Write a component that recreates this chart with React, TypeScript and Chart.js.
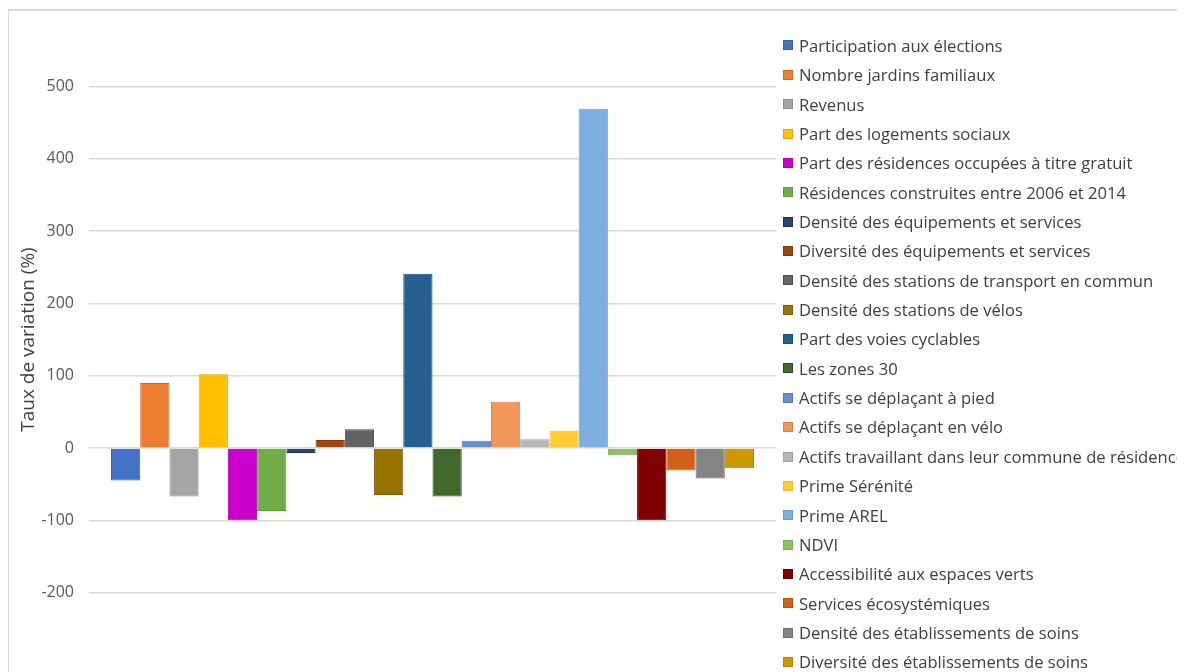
import React, { useEffect, useRef } from "react";
import { Chart, registerables } from "chart.js";

Chart.register(...registerables);

const categories = [""];

const seriesNames = [
  "Participation aux élections",
  "Nombre jardins familiaux",
  "Revenus",
  "Part des logements sociaux",
  "Part des résidences occupées à titre gratuit",
  "Résidences construites entre 2006 et 2014",
  "Densité des équipements et services",
  "Diversité des équipements et services",
  "Densité des stations de transport en commun",
  "Densité des stations de vélos",
  "Part des voies cyclables",
  "Les zones 30",
  "Actifs se déplaçant à pied",
  "Actifs se déplaçant en vélo",
  "Actifs travaillant dans leur commune de résidence",
  "Prime Sérénité",
  "Prime AREL",
  "NDVI",
  "Accessibilité aux espaces verts",
  "Services écosystémiques",
  "Densité des établissements de soins",
  "Diversité des établissements de soins",
];

const seriesValues = [
  -45, 90, -67, 102, -100, -87, -7, 11, 26, -65, 241, -67, 10, 64, 12, 24, 469,
  -10, -100, -31, -42, -28,
];

const seriesColors = [
  "#4472C4", "#ED7D31", "#A5A5A5", "#FFC000", "#CC00CC", "#70AD47",
  "#264478", "#9E480E", "#636363", "#997300", "#255E91", "#43682B",
  "#698ED0", "#F1975A", "#B7B7B7", "#FFCD33", "#7CAFDD", "#8CC168",
  "#800000", "#D2601A", "#848484", "#CC9A00",
];

const borderColors = [
  "#3A62AC", "#D06A26", "#8E8E8E", "#E0A800", "#B000B0", "#5F9A3A",
  "#1A3360", "#823A0A", "#505050", "#7F6000", "#1B4C7A", "#2F5020",
  "#5477BA", "#E08048", "#A0A0A0", "#F0BB20", "#6A9CCA", "#78AE55",
  "#600000", "#B85010", "#6E6E6E", "#B08500",
];

const yTicks = [-200, -100, 0, 100, 200, 300, 400, 500];
const yMin = -300;
const yMax = 600;
const yTitle = "Taux de variation (%)";

const FONT = "'Open Sans', 'Noto Sans', sans-serif";

export default function App() {
  const canvasRef = useRef<HTMLCanvasElement | null>(null);

  useEffect(() => {
    const canvas = canvasRef.current;
    if (!canvas) return;
    const chart = new Chart(canvas, {
      type: "bar",
      data: {
        labels: categories,
        datasets: seriesNames.map((name, i) => ({
          label: name,
          data: [seriesValues[i]],
          backgroundColor: seriesColors[i],
          borderColor: borderColors[i],
          borderWidth: 1,
          categoryPercentage: 0.936,
          barPercentage: 1.0,
        })),
      },
      options: {
        responsive: false,
        animation: false,
        maintainAspectRatio: false,
        layout: { padding: { left: 5, right: 12, top: 6, bottom: 7 } },
        plugins: {
          legend: { display: false },
          tooltip: { enabled: false },
          title: { display: false },
        },
        scales: {
          x: { display: false },
          y: {
            min: yMin,
            max: yMax,
            afterBuildTicks: (s: any) => {
              s.ticks = [yMin, ...yTicks, yMax].map((v) => ({ value: v }));
            },
            afterFit: (s: any) => {
              s.width = 76;
              s.paddingTop = 0;
              s.paddingBottom = 0;
            },
            border: { display: false },
            grid: {
              drawTicks: false,
              lineWidth: 1.5,
              color: (ctx: any) =>
                yTicks.includes(ctx.tick?.value) ? "#D9D9D9" : "rgba(0,0,0,0)",
            },
            ticks: {
              padding: 15,
              color: "#595959",
              font: { family: FONT, size: 16 },
              callback: (v: any) => (yTicks.includes(Number(v)) ? String(v) : ""),
            },
            title: {
              display: true,
              text: yTitle,
              color: "#404040",
              font: { family: FONT, size: 19 },
            },
          },
        },
      },
    });
    return () => chart.destroy();
  }, []);

  return (
    <div
      style={{
        position: "relative",
        width: 1177,
        height: 664,
        overflow: "hidden",
        background: "#fff",
      }}
    >
      <div
        style={{
          position: "absolute",
          left: -1,
          top: 1,
          width: 1200,
          height: 700,
          borderTop: "2px solid #D9D9D9",
          borderLeft: "2px solid #D9D9D9",
        }}
      />
      <canvas
        ref={canvasRef}
        width={780}
        height={664}
        style={{ position: "absolute", left: 0, top: 0, width: 780, height: 664 }}
      />
      <div
        style={{
          position: "absolute",
          left: 775,
          top: 37.5 - 14.7,
          fontFamily: FONT,
          fontSize: 16.6,
          color: "#404040",
          whiteSpace: "nowrap",
        }}
      >
        {seriesNames.map((name, i) => (
          <div
            key={name}
            style={{ height: 29.37, lineHeight: "29.37px", display: "flex", alignItems: "center" }}
          >
            <span
              style={{
                display: "inline-block",
                width: 10,
                height: 10,
                background: seriesColors[i],
                border: `1px solid ${borderColors[i]}`,
                boxSizing: "border-box",
                marginRight: 6,
                flex: "none",
              }}
            />
            <span>{name}</span>
          </div>
        ))}
      </div>
    </div>
  );
}
